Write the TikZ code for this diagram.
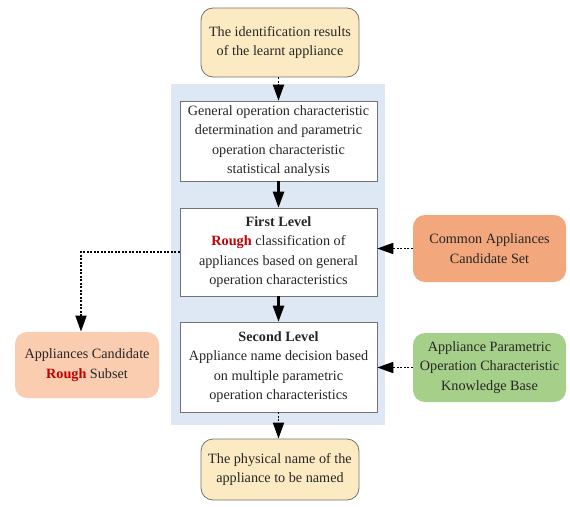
\documentclass[tikz,border=0pt]{standalone}
\usepackage{fontspec}
\setmainfont{Liberation Serif}
\usetikzlibrary{arrows.meta}
\definecolor{bgblue}{HTML}{DDE8F4}
\definecolor{yel}{HTML}{FCEBC2}
\definecolor{orng}{HTML}{F3A77C}
\definecolor{peach}{HTML}{FBCDB0}
\definecolor{grn}{HTML}{A6CF8A}
\definecolor{rough}{HTML}{C00000}
\begin{document}
\begin{tikzpicture}[x=1pt,y=-1pt,
  every node/.style={font=\fontsize{14.2}{19.3}\selectfont, align=center, inner sep=0pt, text=black!85},
  rbox/.style={draw=black!55, line width=0.8pt, rounded corners=12pt},
  wbox/.style={draw=black!55, line width=0.6pt, fill=white, minimum width=197pt},
  sarrow/.style={line width=2.4pt, -{Triangle[length=16pt,width=11pt]}},
  darrow/.style={line width=1.8pt, dash pattern=on 2pt off 1.5pt, -{Triangle[length=16pt,width=11pt,sep=0pt]}}]
\useasboundingbox (0,0) rectangle (570,506);
\fill[white] (0,0) rectangle (570,506);
\node[fill=bgblue, minimum width=214pt, minimum height=341pt] (bg) at (278,254.5) {};
\node[rbox, fill=yel, minimum width=158pt, minimum height=69pt] (top) at (280,42.5) {The identification results\\of the learnt appliance};
\node[wbox, minimum height=80pt] (b1) at (278.5,141) {General operation characteristic\\determination and parametric\\operation characteristic\\statistical analysis};
\node[wbox, minimum height=88pt] (b2) at (278.5,252) {\textbf{First Level}\\\textcolor{rough}{\textbf{Rough}} classification of\\appliances based on general\\operation characteristics};
\node[wbox, minimum height=90pt] (b3) at (278.5,367) {\textbf{Second Level}\\Appliance name decision based\\on multiple parametric\\operation characteristics};
\node[rbox, fill=yel, minimum width=158pt, minimum height=61pt] (bot) at (280,469.5) {The physical name of the\\appliance to be named};
\node[rbox, draw=none, fill=orng, minimum width=153pt, minimum height=67pt] (common) at (489.5,248.5) {Common Appliances\\Candidate Set};
\node[rbox, draw=none, fill=grn, minimum width=153pt, minimum height=69pt] (kb) at (489.5,367.5) {Appliance Parametric\\Operation Characteristic\\Knowledge Base};
\node[rbox, draw=none, fill=peach, minimum width=144pt, minimum height=66pt] (sub) at (87,365) {Appliances Candidate\\\textcolor{rough}{\textbf{Rough}} Subset};
\coordinate (corner) at (81,252);
\draw[darrow] (top.south -| b1.north) -- (b1.north);
\draw[sarrow] (b1) -- (b2);
\draw[sarrow] (b2) -- (b3);
\draw[darrow] (b3.south) -- (b3.south |- bot.north);
\draw[darrow] (common.west) -- (common.west -| b2.east);
\draw[darrow] (kb.west) -- (kb.west -| b3.east);
\draw[darrow] (b2.west) -- (corner) -- (corner |- sub.north);
\end{tikzpicture}
\end{document}
